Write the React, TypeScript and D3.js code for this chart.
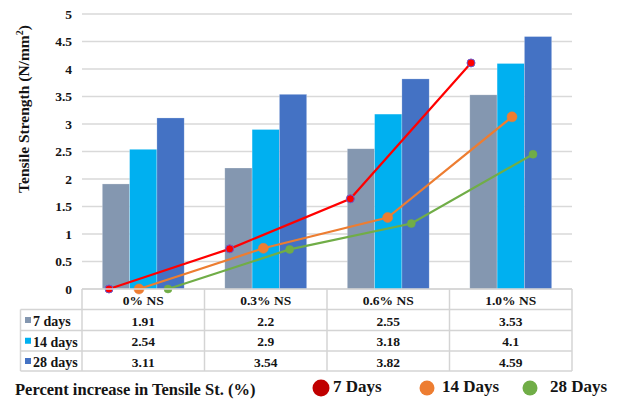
import React from "react";
import * as d3 from "d3";

const categories = ["0% NS", "0.3% NS", "0.6% NS", "1.0% NS"];
const seriesNames = ["7 days", "14 days", "28 days"];
const days7 = [1.91, 2.2, 2.55, 3.53];
const days14 = [2.54, 2.9, 3.18, 4.1];
const days28 = [3.11, 3.54, 3.82, 4.59];
const barSeries = [days7, days14, days28];
const barColors = ["#8497B0", "#00B0F0", "#4472C4"];

const lineNames = ["7 Days", "14 Days", "28 Days"];
const inc7 = [0, 0.73, 1.64, 4.11];
const inc14 = [0, 0.74, 1.3, 3.13];
const inc28 = [0, 0.72, 1.19, 2.45];
const lineSeries = [inc7, inc14, inc28];
const lineColors = ["#FF0000", "#ED7D31", "#70AD47"];
const legendColors = ["#C00000", "#ED7D31", "#70AD47"];
const yTicks = [0, 0.5, 1, 1.5, 2, 2.5, 3, 3.5, 4, 4.5, 5];

const FONT = "Liberation Serif, Times New Roman, Times, serif";
const INK = "#141414";

export default function App() {
  const W = 618, H = 401;
  const left = 82, right = 572, top = 14, bottom = 289;
  const y = d3.scaleLinear().domain([0, 5]).range([bottom, top]);
  const x0 = d3.scaleBand<string>().domain(categories).range([left, right]);
  const x1 = d3.scaleBand<string>().domain(seriesNames).range([0, x0.bandwidth()]).paddingOuter(0.744);
  // line series use their own shifted category axes
  const lineX = [
    d3.scalePoint<string>().domain(categories).range([109, 471]),
    d3.scalePoint<string>().domain(categories).range([139, 512]),
    d3.scalePoint<string>().domain(categories).range([168, 533]),
  ];
  const markerR = [4, 5, 4];
  const rowTops = [309.5, 330.5, 351];
  const tableBottom = 371;
  const rowLeft = 20.5;
  const txt = { fontFamily: FONT, fontWeight: 700 as const };

  return (
    <svg width={W} height={H} style={{ position: "absolute", left: 0, top: 0, background: "#fff" }}>
      <rect x={0} y={0} width={W} height={H} fill="#fff" />
      {/* gridlines */}
      {yTicks.map((t) => (
        <line key={t} x1={left} x2={right} y1={y(t)} y2={y(t)} stroke="#D9D9D9" strokeWidth={1.5} />
      ))}
      {/* y tick labels */}
      {yTicks.map((t) => (
        <text key={"l" + t} x={72} y={y(t)} dy="0.35em" textAnchor="end" style={{ ...txt, fontSize: 13.5 }} fill={INK}>
          {t}
        </text>
      ))}
      {/* y title */}
      <text transform={`translate(29,${109}) rotate(-90)`} textAnchor="middle" style={{ ...txt, fontSize: 15.5 }} fill={INK}>
        Tensile Strength (N/mm<tspan dy={-6} fontSize={10}>2</tspan><tspan dy={6}>)</tspan>
      </text>
      {/* bars */}
      {barSeries.map((vals, si) =>
        vals.map((v, ci) => (
          <rect
            key={si + "-" + ci}
            x={(x0(categories[ci]) as number) + (x1(seriesNames[si]) as number)}
            y={y(v)}
            width={x1.bandwidth()}
            height={y(0) - y(v)}
            fill={barColors[si]}
            stroke="#ffffff"
            strokeOpacity={0.4}
            strokeWidth={0.6}
          />
        ))
      )}
      {/* lines */}
      {lineSeries.map((vals, si) => {
        const gen = d3
          .line<number>()
          .x((_, i) => lineX[si](categories[i]) as number)
          .y((d) => y(d));
        return (
          <g key={"ln" + si}>
            <path d={gen(vals) || ""} fill="none" stroke={lineColors[si]} strokeWidth={2.2} />
            {vals.map((v, i) => (
              <circle
                key={i}
                cx={lineX[si](categories[i]) as number}
                cy={y(v)}
                r={markerR[si]}
                fill={lineColors[si]}
                stroke={si === 0 ? "#6A5ACD" : lineColors[si]}
                strokeWidth={si === 0 ? 1 : 0.5}
              />
            ))}
          </g>
        );
      })}
      {/* data table */}
      <g stroke="#D4D4D4" strokeWidth={1.5} fill="none">
        <line x1={left} x2={right} y1={bottom} y2={bottom} />
        {rowTops.map((ry) => (
          <line key={ry} x1={rowLeft} x2={right} y1={ry} y2={ry} />
        ))}
        <line x1={rowLeft} x2={right} y1={tableBottom} y2={tableBottom} />
        <line x1={rowLeft} x2={rowLeft} y1={rowTops[0]} y2={tableBottom} />
        {categories.map((c) => (
          <line key={c} x1={x0(c) as number} x2={x0(c) as number} y1={bottom} y2={tableBottom} />
        ))}
        <line x1={right} x2={right} y1={bottom} y2={tableBottom} />
      </g>
      {categories.map((c) => (
        <text key={"h" + c} x={(x0(c) as number) + x0.bandwidth() / 2} y={(bottom + rowTops[0]) / 2 + 1} dy="0.35em" textAnchor="middle" style={{ ...txt, fontSize: 13.5 }} fill={INK}>
          {c}
        </text>
      ))}
      {seriesNames.map((s, si) => {
        const ry0 = rowTops[si];
        const ry1 = si < 2 ? rowTops[si + 1] : tableBottom;
        const cy = (ry0 + ry1) / 2;
        return (
          <g key={"r" + s}>
            <rect x={25} y={cy - 3} width={6} height={6} fill={barColors[si]} />
            <text x={33} y={cy + 1} dy="0.35em" style={{ ...txt, fontSize: 14 }} fill={INK}>
              {s}
            </text>
            {barSeries[si].map((v, ci) => (
              <text key={ci} x={(x0(categories[ci]) as number) + x0.bandwidth() / 2} y={cy + 1} dy="0.35em" textAnchor="middle" style={{ ...txt, fontSize: 13.5 }} fill={INK}>
                {v}
              </text>
            ))}
          </g>
        );
      })}
      {/* bottom legend */}
      <text x={15} y={389} dy="0.35em" style={{ ...txt, fontSize: 16.5 }} fill={INK}>
        Percent increase in Tensile St. (%)
      </text>
      {lineNames.map((n, i) => {
        const cx = [321, 427, 530][i];
        const tx = [333, 442, 550][i];
        const r = [8.5, 7.5, 7.5][i];
        return (
          <g key={"lg" + n}>
            <circle cx={cx} cy={388} r={r} fill={legendColors[i]} />
            <text x={tx} y={386} dy="0.35em" style={{ ...txt, fontSize: 17 }} fill={INK}>
              {n}
            </text>
          </g>
        );
      })}
    </svg>
  );
}
